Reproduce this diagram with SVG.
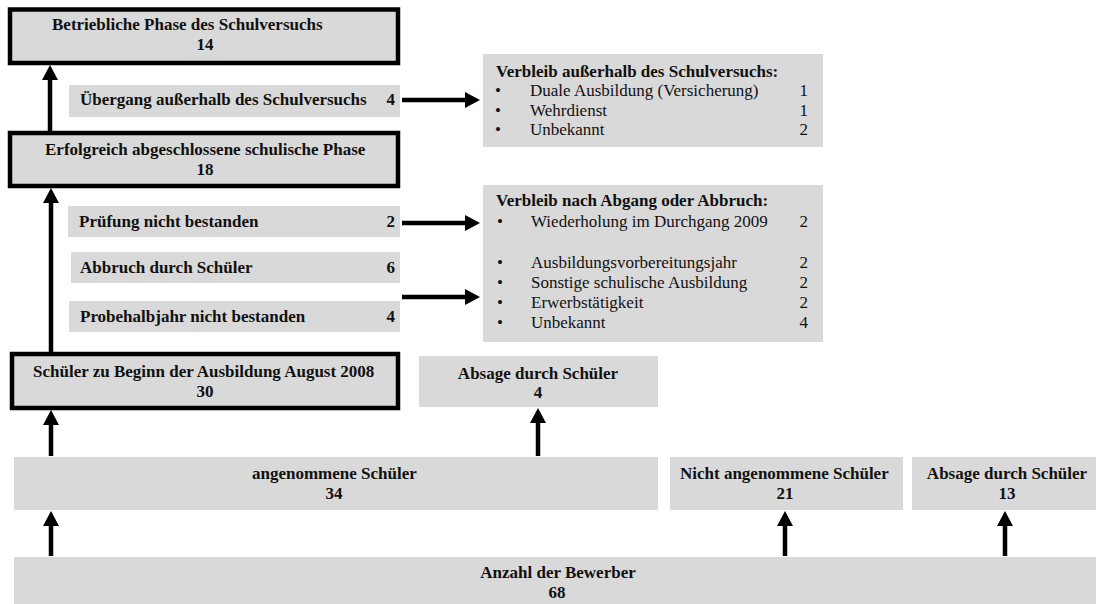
<svg xmlns="http://www.w3.org/2000/svg" width="1096" height="604" viewBox="0 0 1096 604">
<defs>
<style>
.box{fill:#d9d9d9;}
.thick{fill:#d9d9d9;stroke:#000;stroke-width:4.5;}
text{font-family:"Liberation Serif","Times New Roman",serif;font-size:17px;fill:#111;}
.b{font-weight:bold;}
.m{text-anchor:middle;}
.e{text-anchor:end;}
.conn line{stroke:#000;stroke-width:4.5;marker-end:url(#ah);}
</style>
<marker id="ah" markerUnits="userSpaceOnUse" markerWidth="16" markerHeight="16" refX="7" refY="8" orient="auto">
<path d="M0,0 L15,8 L0,16 z" fill="#000"/>
</marker>
</defs>
<rect width="1096" height="604" fill="#fff"/>

<g id="betriebliche">
<rect class="thick" x="10" y="9.5" width="388" height="53.5"/>
<text class="b" x="52" y="30">Betriebliche Phase des Schulversuchs</text>
<text class="b m" x="205" y="50">14</text>
</g>

<g id="uebergang">
<rect class="box" x="69" y="85" width="331" height="32"/>
<text class="b" x="80" y="105">Übergang außerhalb des Schulversuchs</text>
<text class="b e" x="395" y="105">4</text>
</g>

<g id="verbleib-ausserhalb">
<rect class="box" x="483" y="54" width="340" height="93"/>
<text class="b" x="496" y="77">Verbleib außerhalb des Schulversuchs:</text>
<text x="495" y="96">•</text><text x="530" y="96">Duale Ausbildung (Versicherung)</text><text class="e" x="808" y="96">1</text>
<text x="495" y="116">•</text><text x="530" y="116">Wehrdienst</text><text class="e" x="808" y="116">1</text>
<text x="495" y="135">•</text><text x="530" y="135">Unbekannt</text><text class="e" x="808" y="135">2</text>
</g>

<g id="erfolgreich">
<rect class="thick" x="10" y="133" width="388" height="53"/>
<text class="b" x="45" y="155">Erfolgreich abgeschlossene schulische Phase</text>
<text class="b m" x="205" y="175">18</text>
</g>

<g id="pruefung">
<rect class="box" x="68" y="206" width="332" height="31"/>
<text class="b" x="79" y="227">Prüfung nicht bestanden</text>
<text class="b e" x="395" y="227">2</text>
</g>

<g id="abbruch">
<rect class="box" x="71" y="252" width="329" height="31"/>
<text class="b" x="80" y="273">Abbruch durch Schüler</text>
<text class="b e" x="395" y="273">6</text>
</g>

<g id="probehalbjahr">
<rect class="box" x="69" y="301" width="331" height="31"/>
<text class="b" x="80" y="322">Probehalbjahr nicht bestanden</text>
<text class="b e" x="395" y="322">4</text>
</g>

<g id="verbleib-abgang">
<rect class="box" x="483" y="185" width="340" height="157"/>
<text class="b" x="496" y="206">Verbleib nach Abgang oder Abbruch:</text>
<text x="497" y="227">•</text><text x="531" y="227">Wiederholung im Durchgang 2009</text><text class="e" x="808" y="227">2</text>
<text x="497" y="268">•</text><text x="531" y="268">Ausbildungsvorbereitungsjahr</text><text class="e" x="808" y="268">2</text>
<text x="497" y="288">•</text><text x="531" y="288">Sonstige schulische Ausbildung</text><text class="e" x="808" y="288">2</text>
<text x="497" y="308">•</text><text x="531" y="308">Erwerbstätigkeit</text><text class="e" x="808" y="308">2</text>
<text x="497" y="328">•</text><text x="531" y="328">Unbekannt</text><text class="e" x="808" y="328">4</text>
</g>

<g id="schueler-beginn">
<rect class="thick" x="12" y="354" width="386" height="54"/>
<text class="b" x="33" y="377">Schüler zu Beginn der Ausbildung August 2008</text>
<text class="b m" x="205" y="397">30</text>
</g>

<g id="absage-4">
<rect class="box" x="419" y="356" width="239" height="51"/>
<text class="b m" x="538" y="379">Absage durch Schüler</text>
<text class="b m" x="538" y="398">4</text>
</g>

<g id="angenommene">
<rect class="box" x="14" y="457" width="644" height="53"/>
<text class="b" x="252" y="479">angenommene Schüler</text>
<text class="b m" x="334" y="499">34</text>
</g>

<g id="nicht-angenommene">
<rect class="box" x="670" y="457" width="233" height="53"/>
<text class="b" x="680" y="479">Nicht angenommene Schüler</text>
<text class="b m" x="785" y="499">21</text>
</g>

<g id="absage-13">
<rect class="box" x="912" y="457" width="184" height="53"/>
<text class="b m" x="1007" y="479">Absage durch Schüler</text>
<text class="b m" x="1007" y="499">13</text>
</g>

<g id="anzahl">
<rect class="box" x="14" y="557" width="1082" height="47"/>
<text class="b m" x="558" y="578">Anzahl der Bewerber</text>
<text class="b m" x="557" y="598">68</text>
</g>

<g id="connectors" class="conn">
<line x1="50" y1="131" x2="50" y2="73"/>
<line x1="51" y1="352" x2="51" y2="196"/>
<line x1="51" y1="456" x2="51" y2="418"/>
<line x1="51" y1="556" x2="51" y2="519"/>
<line x1="538" y1="456" x2="538" y2="416"/>
<line x1="785" y1="556" x2="785" y2="519"/>
<line x1="1005" y1="556" x2="1005" y2="519"/>
<line x1="402" y1="100" x2="472" y2="100"/>
<line x1="402" y1="223" x2="472" y2="223"/>
<line x1="402" y1="297" x2="472" y2="297"/>
</g>
</svg>
